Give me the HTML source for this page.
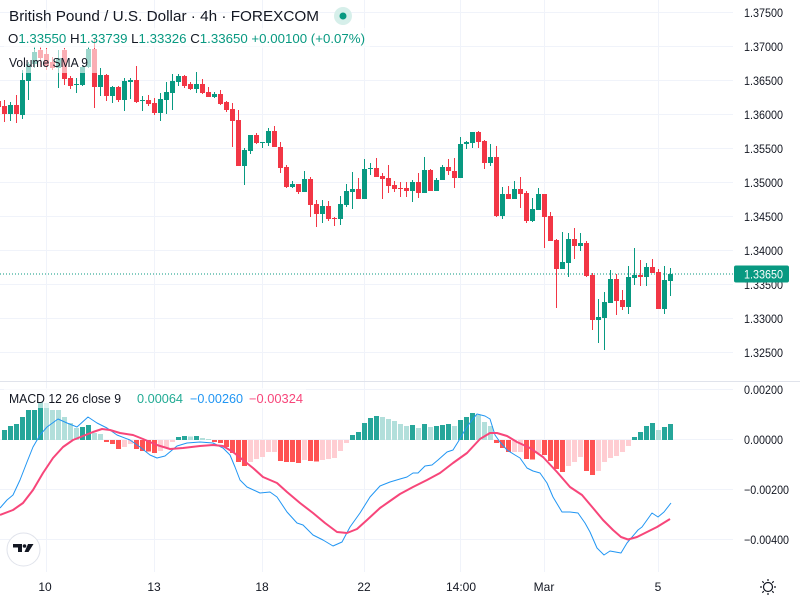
<!DOCTYPE html>
<html><head><meta charset="utf-8"><style>
html,body{margin:0;padding:0;background:#fff;}
svg{display:block;font-family:"Liberation Sans",sans-serif;}
</style></head><body>
<svg width="800" height="600" viewBox="0 0 800 600" xmlns="http://www.w3.org/2000/svg">
<rect width="800" height="600" fill="#fff"/>
<!-- grid -->
<g stroke="#f0f3fa" stroke-width="1">
<line x1="0" y1="12.5" x2="733" y2="12.5"/>
<line x1="0" y1="46.5" x2="733" y2="46.5"/>
<line x1="0" y1="80.5" x2="733" y2="80.5"/>
<line x1="0" y1="114.5" x2="733" y2="114.5"/>
<line x1="0" y1="148.5" x2="733" y2="148.5"/>
<line x1="0" y1="182.5" x2="733" y2="182.5"/>
<line x1="0" y1="216.5" x2="733" y2="216.5"/>
<line x1="0" y1="250.5" x2="733" y2="250.5"/>
<line x1="0" y1="284.5" x2="733" y2="284.5"/>
<line x1="0" y1="318.5" x2="733" y2="318.5"/>
<line x1="0" y1="352.5" x2="733" y2="352.5"/>
<line x1="0" y1="389.5" x2="733" y2="389.5"/>
<line x1="0" y1="439.5" x2="733" y2="439.5"/>
<line x1="0" y1="489.5" x2="733" y2="489.5"/>
<line x1="0" y1="539.5" x2="733" y2="539.5"/>
<line x1="46.5" y1="0" x2="46.5" y2="572"/>
<line x1="154.5" y1="0" x2="154.5" y2="572"/>
<line x1="262.5" y1="0" x2="262.5" y2="572"/>
<line x1="364.5" y1="0" x2="364.5" y2="572"/>
<line x1="460.5" y1="0" x2="460.5" y2="572"/>
<line x1="544.5" y1="0" x2="544.5" y2="572"/>
<line x1="658.5" y1="0" x2="658.5" y2="572"/>
</g>
<line x1="0" y1="381.5" x2="800" y2="381.5" stroke="#e0e3eb" stroke-width="1"/>
<!-- last price dotted line -->
<line x1="0" y1="274" x2="733" y2="274" stroke="#089981" stroke-width="1" stroke-dasharray="1 2"/>
<!-- candles -->
<path fill="#089981" d="M8 105h5v9h-5z M10 102h1v19h-1z M20 80h5v35h-5z M22 70h1v49h-1z M26 64h5v17h-5z M28 62h1v38h-1z M32 52h5v12h-5z M34 47h1v21h-1z M56 58h5v10h-5z M58 50h1v38h-1z M74 84h5v1h-5z M76 78h1v15h-1z M80 67h5v18h-5z M82 66h1v20h-1z M86 49h5v18h-5z M88 47h1v21h-1z M98 75h5v12h-5z M100 68h1v28h-1z M110 87h5v9h-5z M112 86h1v17h-1z M122 81h5v19h-5z M124 78h1v33h-1z M128 80h5v2h-5z M130 78h1v21h-1z M140 100h5v1h-5z M142 96h1v15h-1z M158 99h5v14h-5z M160 93h1v28h-1z M164 92h5v8h-5z M166 82h1v32h-1z M170 81h5v12h-5z M172 74h1v36h-1z M176 76h5v6h-5z M178 74h1v12h-1z M194 84h5v5h-5z M196 72h1v21h-1z M212 94h5v3h-5z M214 92h1v6h-1z M242 150h5v16h-5z M244 148h1v37h-1z M248 135h5v16h-5z M250 135h1v19h-1z M260 142h5v1h-5z M262 142h1v6h-1z M266 131h5v12h-5z M268 128h1v18h-1z M290 184h5v3h-5z M292 181h1v7h-1z M302 179h5v13h-5z M304 171h1v21h-1z M320 206h5v8h-5z M322 200h1v23h-1z M338 204h5v15h-5z M340 196h1v29h-1z M344 191h5v14h-5z M346 184h1v23h-1z M350 189h5v3h-5z M352 172h1v37h-1z M362 169h5v30h-5z M364 159h1v40h-1z M368 168h5v1h-5z M370 163h1v12h-1z M410 182h5v9h-5z M412 180h1v22h-1z M422 170h5v23h-5z M424 157h1v36h-1z M434 180h5v11h-5z M436 178h1v13h-1z M440 167h5v13h-5z M442 165h1v15h-1z M458 144h5v34h-5z M460 137h1v41h-1z M464 142h5v2h-5z M466 141h1v8h-1z M470 132h5v11h-5z M472 132h1v16h-1z M488 157h5v6h-5z M490 144h1v22h-1z M500 194h5v22h-5z M502 187h1v32h-1z M512 189h5v10h-5z M514 181h1v18h-1z M530 209h5v12h-5z M532 198h1v24h-1z M536 194h5v16h-5z M538 188h1v22h-1z M560 262h5v7h-5z M562 232h1v37h-1z M566 239h5v24h-5z M568 233h1v44h-1z M578 243h5v3h-5z M580 233h1v18h-1z M596 317h5v3h-5z M598 299h1v44h-1z M602 302h5v16h-5z M604 292h1v58h-1z M608 279h5v24h-5z M610 270h1v33h-1z M626 277h5v30h-5z M628 266h1v48h-1z M632 275h5v3h-5z M634 248h1v37h-1z M644 267h5v10h-5z M646 263h1v23h-1z M662 280h5v29h-5z M664 266h1v48h-1z M668 274h5v7h-5z M670 268h1v28h-1z"/>
<path fill="#f23645" d="M-4 101h5v6h-5z M-2 99h1v11h-1z M2 106h5v8h-5z M4 100h1v22h-1z M14 105h5v9h-5z M16 95h1v28h-1z M38 50h5v8h-5z M40 47h1v20h-1z M44 54h5v12h-5z M46 48h1v22h-1z M50 62h5v6h-5z M52 57h1v13h-1z M62 50h5v29h-5z M64 48h1v37h-1z M68 78h5v8h-5z M70 76h1v13h-1z M92 49h5v38h-5z M94 38h1v70h-1z M104 75h5v21h-5z M106 74h1v27h-1z M116 87h5v13h-5z M118 86h1v16h-1z M134 80h5v22h-5z M136 66h1v37h-1z M146 100h5v4h-5z M148 95h1v11h-1z M152 103h5v10h-5z M154 98h1v17h-1z M182 76h5v10h-5z M184 75h1v13h-1z M188 84h5v5h-5z M190 82h1v8h-1z M200 84h5v9h-5z M202 79h1v15h-1z M206 92h5v5h-5z M208 87h1v10h-1z M218 94h5v10h-5z M220 90h1v15h-1z M224 102h5v8h-5z M226 101h1v11h-1z M230 109h5v12h-5z M232 103h1v44h-1z M236 120h5v46h-5z M238 110h1v56h-1z M254 135h5v8h-5z M256 133h1v11h-1z M272 131h5v16h-5z M274 126h1v21h-1z M278 147h5v21h-5z M280 142h1v31h-1z M284 167h5v20h-5z M286 165h1v23h-1z M296 184h5v8h-5z M298 184h1v10h-1z M308 179h5v26h-5z M310 177h1v40h-1z M314 204h5v10h-5z M316 200h1v27h-1z M326 206h5v13h-5z M328 201h1v20h-1z M332 218h5v1h-5z M334 217h1v9h-1z M356 189h5v10h-5z M358 178h1v21h-1z M374 168h5v9h-5z M376 158h1v19h-1z M380 176h5v3h-5z M382 173h1v26h-1z M386 178h5v8h-5z M388 165h1v28h-1z M392 185h5v4h-5z M394 181h1v11h-1z M398 188h5v1h-5z M400 182h1v15h-1z M404 188h5v3h-5z M406 182h1v15h-1z M416 182h5v11h-5z M418 173h1v25h-1z M428 170h5v21h-5z M430 169h1v22h-1z M446 167h5v4h-5z M448 159h1v16h-1z M452 171h5v7h-5z M454 158h1v30h-1z M476 132h5v10h-5z M478 131h1v17h-1z M482 141h5v22h-5z M484 140h1v29h-1z M494 157h5v59h-5z M496 146h1v71h-1z M506 194h5v5h-5z M508 186h1v13h-1z M518 189h5v5h-5z M520 177h1v31h-1z M524 193h5v28h-5z M526 191h1v32h-1z M542 194h5v23h-5z M544 194h1v54h-1z M548 216h5v25h-5z M550 212h1v29h-1z M554 240h5v29h-5z M556 239h1v69h-1z M572 239h5v7h-5z M574 228h1v31h-1z M584 243h5v33h-5z M586 241h1v36h-1z M590 275h5v45h-5z M592 273h1v57h-1z M614 279h5v22h-5z M616 274h1v41h-1z M620 300h5v7h-5z M622 290h1v20h-1z M638 275h5v2h-5z M640 260h1v26h-1z M650 267h5v6h-5z M652 259h1v14h-1z M656 272h5v37h-5z M658 269h1v40h-1z"/>
<!-- MACD histogram -->
<path fill="#26a69a" d="M2 430h5V440h-5z M8 426h5V440h-5z M14 424h5V440h-5z M20 417h5V440h-5z M26 410h5V440h-5z M32 410h5V440h-5z M38 402h5V440h-5z M80 427h5V440h-5z M86 425h5V440h-5z M176 437h5V440h-5z M182 436h5V440h-5z M194 436h5V440h-5z M350 435h5V440h-5z M356 432h5V440h-5z M362 423h5V440h-5z M368 418h5V440h-5z M374 416h5V440h-5z M410 425h5V440h-5z M422 424h5V440h-5z M434 426h5V440h-5z M440 425h5V440h-5z M446 424h5V440h-5z M458 420h5V440h-5z M464 417h5V440h-5z M470 413h5V440h-5z M632 437h5V440h-5z M638 432h5V440h-5z M644 426h5V440h-5z M650 423h5V440h-5z M662 427h5V440h-5z M668 424h5V440h-5z"/>
<path fill="#b2dfdb" d="M44 403h5V440h-5z M50 410h5V440h-5z M56 410h5V440h-5z M62 417h5V440h-5z M68 423h5V440h-5z M74 428h5V440h-5z M92 433h5V440h-5z M98 434h5V440h-5z M188 436.5h5V440h-5z M200 438h5V440h-5z M206 439h5V440h-5z M380 417h5V440h-5z M386 419h5V440h-5z M392 421h5V440h-5z M398 424h5V440h-5z M404 426h5V440h-5z M416 428h5V440h-5z M428 427h5V440h-5z M452 426h5V440h-5z M476 415h5V440h-5z M482 422h5V440h-5z M488 426h5V440h-5z M656 430h5V440h-5z"/>
<path fill="#ff5252" d="M104 440h5V442h-5z M110 440h5V444h-5z M116 440h5V449h-5z M134 440h5V449h-5z M140 440h5V451h-5z M146 440h5V451.5h-5z M152 440h5V453h-5z M212 440h5V442h-5z M218 440h5V443h-5z M224 440h5V447h-5z M230 440h5V453h-5z M236 440h5V462h-5z M242 440h5V466h-5z M278 440h5V461h-5z M284 440h5V462h-5z M290 440h5V462h-5z M296 440h5V463h-5z M308 440h5V461h-5z M314 440h5V461.5h-5z M494 440h5V443h-5z M500 440h5V448h-5z M506 440h5V452h-5z M524 440h5V459h-5z M530 440h5V459.5h-5z M542 440h5V455h-5z M548 440h5V461h-5z M554 440h5V469h-5z M560 440h5V472h-5z M584 440h5V471h-5z M590 440h5V475h-5z"/>
<path fill="#ffcdd2" d="M122 440h5V447h-5z M128 440h5V444h-5z M158 440h5V451h-5z M164 440h5V448h-5z M170 440h5V442h-5z M248 440h5V462h-5z M254 440h5V459h-5z M260 440h5V457h-5z M266 440h5V452h-5z M272 440h5V452h-5z M302 440h5V460h-5z M320 440h5V460h-5z M326 440h5V459h-5z M332 440h5V458h-5z M338 440h5V451h-5z M344 440h5V443h-5z M512 440h5V452h-5z M518 440h5V452h-5z M536 440h5V453h-5z M566 440h5V466h-5z M572 440h5V462h-5z M578 440h5V457h-5z M596 440h5V471h-5z M602 440h5V462h-5z M608 440h5V458h-5z M614 440h5V456h-5z M620 440h5V452h-5z M626 440h5V446h-5z"/>
<!-- MACD lines -->
<polyline fill="none" stroke="#2196f3" stroke-width="1" stroke-linejoin="round" points="0,508 7,500 13,495 20,480 27,462 33,447 40,435 47,427 58,419 67,423 77,427 88,417 97,423 107,428 117,435 130,440 140,447 150,455 157,458 165,456 177,446 187,443 200,442 213,443 223,448 230,455 235,467 240,480 247,487 260,493 270,492 277,497 287,512 297,523 303,525 313,535 323,540 333,546 342,542 350,527 360,513 370,497 380,486 390,482 400,479 407,477 413,473 418,473 425,466 432,465 438,460 447,452 453,450 458,442 465,430 472,420 477,414 485,416 490,419 495,435 500,442 507,450 515,455 520,458 527,468 533,471 540,473 547,483 553,497 562,512 570,512 578,513 585,523 590,532 597,548 604,555 610,551 621,553 627,543 638,530 642,527 652,513 658,517 664,512 671,503"/>
<polyline fill="none" stroke="#f7467a" stroke-width="2" stroke-linejoin="round" points="0,515 13,510 23,503 33,490 43,473 53,458 63,447 73,440 83,436 93,432 102,429 110,430 120,433 133,435 143,439 157,445 170,449 183,448 200,446 213,445 223,446 233,452 243,460 253,468 263,477 277,483 287,492 300,503 313,513 325,523 337,532 347,533 357,529 367,520 380,508 390,501 400,494 413,487 427,480 440,473 453,463 467,453 480,439 490,433 497,433 507,436 517,442 530,448 543,457 557,472 570,487 582,495 593,508 603,520 613,530 621,537 628,539.5 637,537 647,532 657,527 670,519"/>
<!-- legend backgrounds -->
<rect x="4" y="28" width="366" height="20" fill="#fff" fill-opacity="0.6"/>
<rect x="4" y="49" width="93" height="24" fill="#fff" fill-opacity="0.6"/>
<rect x="4" y="388" width="302" height="20" fill="#fff" fill-opacity="0.6"/>
<!-- legend text -->
<text x="9" y="21" font-size="14.5" fill="#131722" textLength="310" lengthAdjust="spacingAndGlyphs">British Pound / U.S. Dollar · 4h · FOREXCOM</text>
<circle cx="343" cy="16" r="9" fill="#d6efea"/>
<circle cx="343" cy="16" r="3.5" fill="#089981"/>
<text x="8" y="43" font-size="12.5" fill="#089981" textLength="357" lengthAdjust="spacingAndGlyphs"><tspan fill="#131722">O</tspan>1.33550 <tspan fill="#131722">H</tspan>1.33739 <tspan fill="#131722">L</tspan>1.33326 <tspan fill="#131722">C</tspan>1.33650 +0.00100 (+0.07%)</text>
<text x="9" y="67" font-size="13" fill="#131722" textLength="79" lengthAdjust="spacingAndGlyphs">Volume SMA 9</text>
<text x="9" y="403" font-size="12.5" fill="#131722" textLength="112" lengthAdjust="spacingAndGlyphs">MACD 12 26 close 9</text>
<text x="137" y="403" font-size="12.5" fill="#22ab94" textLength="46" lengthAdjust="spacingAndGlyphs">0.00064</text>
<text x="190" y="403" font-size="12.5" fill="#2196f3" textLength="53" lengthAdjust="spacingAndGlyphs">−0.00260</text>
<text x="249" y="403" font-size="12.5" fill="#f7467a" textLength="54" lengthAdjust="spacingAndGlyphs">−0.00324</text>
<!-- price axis -->
<g font-size="12" fill="#131722">
<text x="744" y="17" textLength="39" lengthAdjust="spacingAndGlyphs">1.37500</text>
<text x="744" y="51" textLength="39" lengthAdjust="spacingAndGlyphs">1.37000</text>
<text x="744" y="85" textLength="39" lengthAdjust="spacingAndGlyphs">1.36500</text>
<text x="744" y="119" textLength="39" lengthAdjust="spacingAndGlyphs">1.36000</text>
<text x="744" y="153" textLength="39" lengthAdjust="spacingAndGlyphs">1.35500</text>
<text x="744" y="187" textLength="39" lengthAdjust="spacingAndGlyphs">1.35000</text>
<text x="744" y="221" textLength="39" lengthAdjust="spacingAndGlyphs">1.34500</text>
<text x="744" y="255" textLength="39" lengthAdjust="spacingAndGlyphs">1.34000</text>
<text x="744" y="289" textLength="39" lengthAdjust="spacingAndGlyphs">1.33500</text>
<text x="744" y="323" textLength="39" lengthAdjust="spacingAndGlyphs">1.33000</text>
<text x="744" y="357" textLength="39" lengthAdjust="spacingAndGlyphs">1.32500</text>
<text x="744" y="394" textLength="39" lengthAdjust="spacingAndGlyphs">0.00200</text>
<text x="744" y="444" textLength="39" lengthAdjust="spacingAndGlyphs">0.00000</text>
<text x="744" y="494" textLength="45" lengthAdjust="spacingAndGlyphs">−0.00200</text>
<text x="744" y="544" textLength="45" lengthAdjust="spacingAndGlyphs">−0.00400</text>
</g>
<rect x="734" y="265.5" width="55" height="17" rx="2" fill="#089981"/>
<text x="744" y="278.5" font-size="12" fill="#fff" textLength="39" lengthAdjust="spacingAndGlyphs">1.33650</text>
<!-- time axis -->
<g font-size="12" fill="#131722" text-anchor="middle">
<text x="45" y="591">10</text>
<text x="154" y="591">13</text>
<text x="262" y="591">18</text>
<text x="364" y="591">22</text>
<text x="461" y="591">14:00</text>
<text x="544" y="591">Mar</text>
<text x="658" y="591">5</text>
</g>
<!-- settings icon -->
<g stroke="#131722" stroke-width="1.2" fill="none">
<circle cx="768" cy="587" r="4.5"/>
<line x1="768" y1="579" x2="768" y2="581"/>
<line x1="768" y1="593" x2="768" y2="595"/>
<line x1="760" y1="587" x2="762" y2="587"/>
<line x1="774" y1="587" x2="776" y2="587"/>
<line x1="762.3" y1="581.3" x2="763.8" y2="582.8"/>
<line x1="772.2" y1="591.2" x2="773.7" y2="592.7"/>
<line x1="773.7" y1="581.3" x2="772.2" y2="582.8"/>
<line x1="763.8" y1="591.2" x2="762.3" y2="592.7"/>
</g>
<!-- TV logo -->
<circle cx="23.5" cy="549.5" r="16.5" fill="#fff" stroke="#e0e3eb" stroke-width="1"/>
<path fill="#131722" d="M13 544h9v8h-4v-4.5h-5z"/>
<circle cx="24.5" cy="546" r="1.8" fill="#131722"/>
<path fill="#131722" d="M28 544h5.5l-5 8h-4z"/>
</svg>
</body></html>
